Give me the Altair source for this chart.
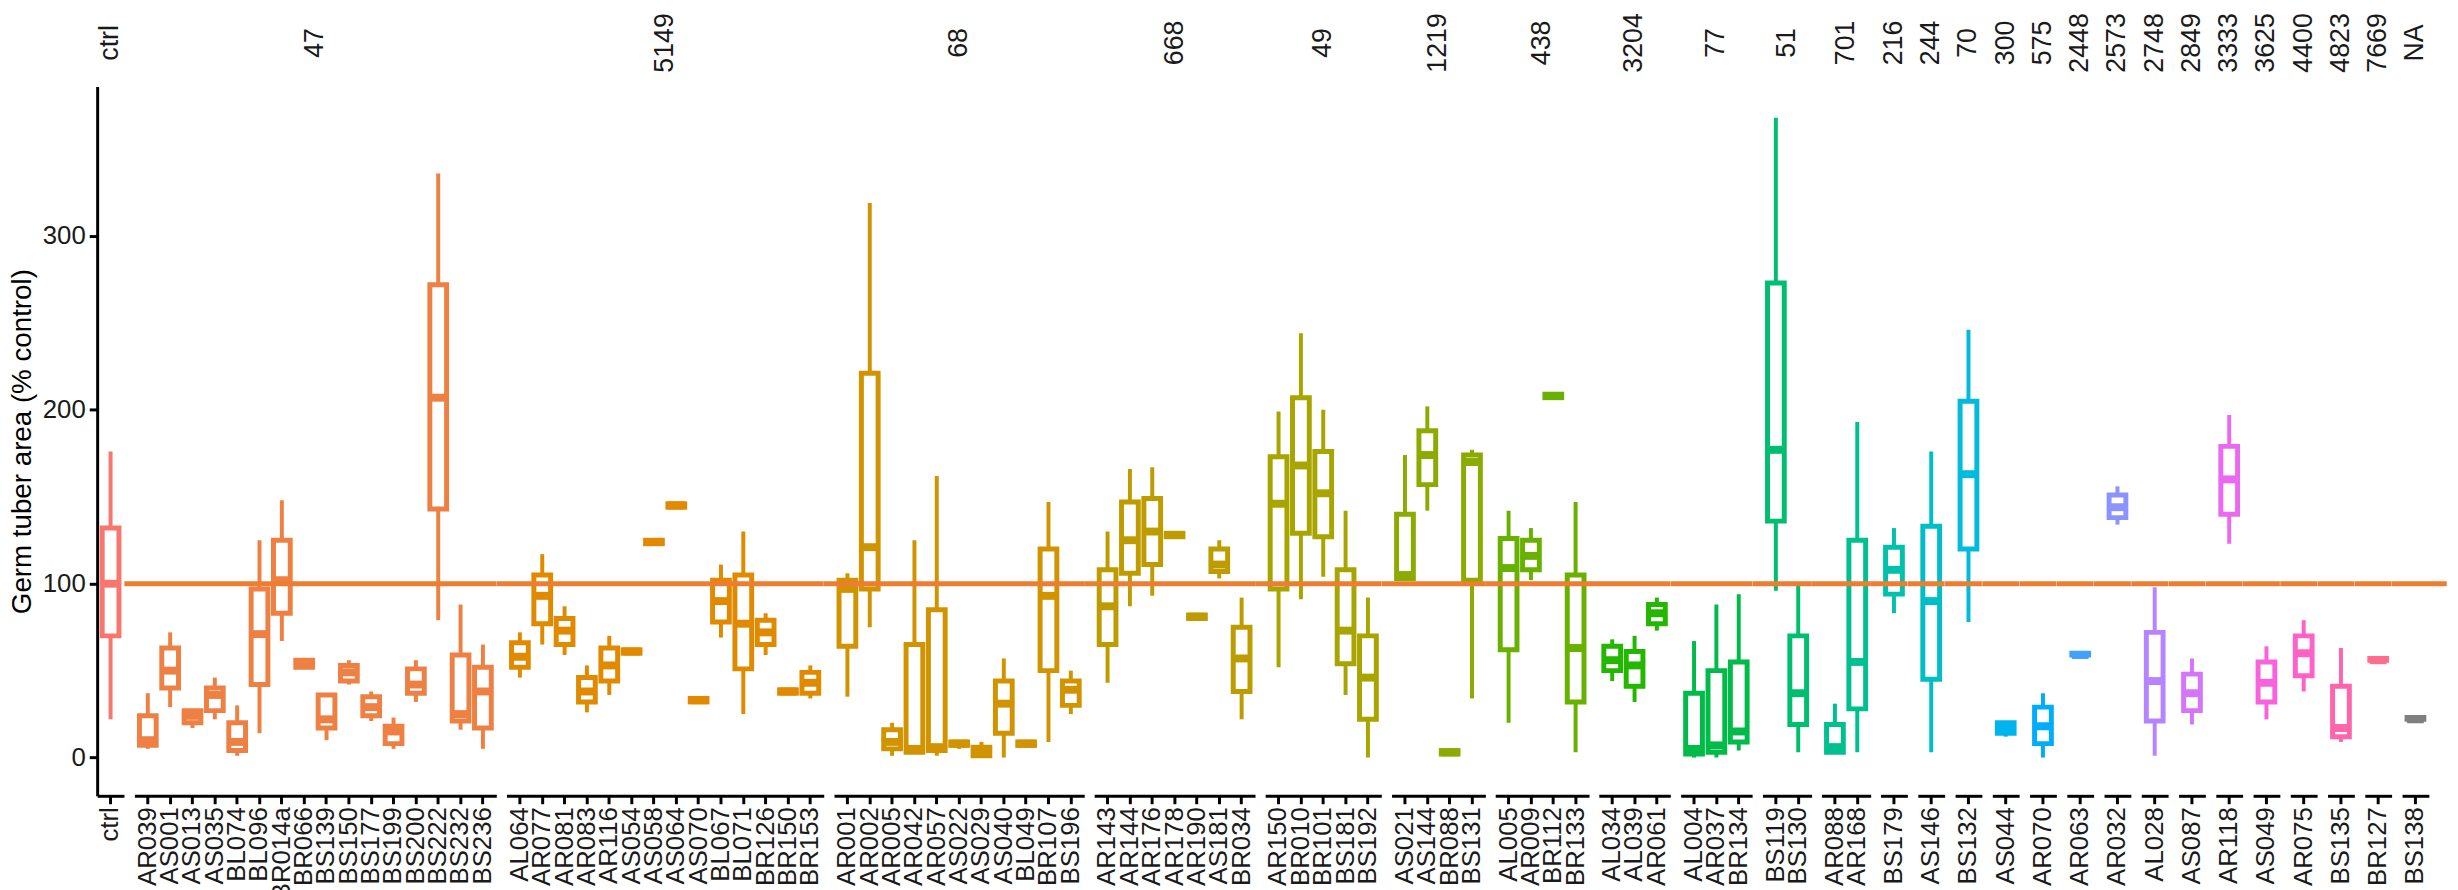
import math
import altair as alt
import pandas as pd

# ---------------- data ----------------
groups = ["ctrl", "47", "5149", "68", "668", "49", "1219", "438", "3204", "77", "51", "701",
          "216", "244", "70", "300", "575", "2448", "2573", "2748", "2849", "3333", "3625",
          "4400", "4823", "7669", "NA"]

cats = ["ctrl",
        "AR039", "AS001", "AS013", "AS035", "BL074", "BL096", "BR014a", "BR066", "BS139", "BS150",
        "BS177", "BS199", "BS200", "BS222", "BS232", "BS236",
        "AL064", "AR077", "AR081", "AR083", "AR116", "AS054", "AS058", "AS064", "AS070", "BL067",
        "BL071", "BR126", "BR150", "BR153",
        "AR001", "AR002", "AR005", "AR042", "AR057", "AS022", "AS029", "AS040", "BL049", "BR107", "BS196",
        "AR143", "AR144", "AR176", "AR178", "AR190", "AS181", "BR034",
        "AR150", "BR010", "BR101", "BS181", "BS192",
        "AS021", "AS144", "BR088", "BS131",
        "AL005", "AR009", "BR112", "BR133",
        "AL034", "AL039", "AR061",
        "AL004", "AR037", "BR134",
        "BS119", "BS130",
        "AR088", "AR168",
        "BS179", "AS146", "BS132", "AS044", "AR070", "AR063", "AR032", "AL028", "AS087", "AR118",
        "AS049", "AR075", "BS135", "BR127", "BS138"]

grp = ["ctrl",
       "47", "47", "47", "47", "47", "47", "47", "47", "47", "47", "47", "47", "47", "47", "47", "47",
       "5149", "5149", "5149", "5149", "5149", "5149", "5149", "5149", "5149", "5149", "5149", "5149", "5149", "5149",
       "68", "68", "68", "68", "68", "68", "68", "68", "68", "68", "68",
       "668", "668", "668", "668", "668", "668", "668",
       "49", "49", "49", "49", "49",
       "1219", "1219", "1219", "1219",
       "438", "438", "438", "438",
       "3204", "3204", "3204",
       "77", "77", "77",
       "51", "51",
       "701", "701",
       "216", "244", "70", "300", "575", "2448", "2573", "2748", "2849", "3333",
       "3625", "4400", "4823", "7669", "NA"]

lo = [22,
      5, 29, 17, 22, 1, 14, 67, 51, 10, 42, 21, 5, 32, 79, 16, 5,
      46, 65, 59, 26, 36, 60, 123, 144, 32, 69, 25, 59, 37, 34,
      35, 75, 1, 2, 1, 5, 0, 0, 7, 9, 25,
      43, 87, 93, 127, 80, 103, 22,
      52, 91, 104, 36, 0,
      103, 142, 2, 34,
      20, 102, 207, 3,
      44, 32, 73,
      0, 0, 4,
      96, 3,
      2, 3,
      83, 3, 78, 12, 0, 58, 134, 1, 19, 123, 22, 38, 9, 55, 21]
q1 = [70,
      7, 40, 20, 27, 4, 42, 83, 52, 17, 44, 24, 8, 37, 143, 21, 17,
      52, 77, 65, 32, 44, 60, 123, 144, 32, 78, 51, 65, 37, 37,
      64, 97, 5, 3, 4, 7, 1, 14, 7, 50, 30,
      65, 106, 111, 127, 80, 107, 38,
      97, 129, 127, 54, 22,
      103, 157, 2, 102,
      62, 108, 207, 32,
      50, 41, 77,
      2, 3, 9,
      136, 19,
      3, 28,
      94, 45, 120, 14, 8, 59, 138, 21, 27, 140, 32, 47, 12, 56, 22]
med = [100,
       10, 50, 24, 36, 9, 71, 102, 54, 22, 49, 29, 15, 42, 207, 25, 38,
       58, 93, 73, 38, 53, 61, 124, 145, 33, 90, 77, 72, 38, 43,
       97, 121, 9, 5, 6, 8, 3, 31, 8, 93, 39,
       87, 125, 130, 128, 81, 111, 57,
       146, 168, 152, 73, 46,
       105, 174, 3, 170,
       109, 116, 208, 63,
       56, 53, 83,
       5, 7, 15,
       177, 37,
       6, 55,
       108, 90, 163, 17, 18, 59, 144, 44, 37, 160, 43, 60, 17, 56, 22]
q3 = [132,
      24, 63, 27, 40, 20, 97, 125, 56, 36, 53, 35, 18, 51, 272, 59, 52,
      66, 105, 80, 46, 63, 62, 125, 146, 34, 102, 105, 79, 39, 49,
      102, 221, 16, 65, 85, 9, 6, 44, 9, 120, 44,
      108, 147, 149, 129, 82, 120, 75,
      173, 207, 176, 108, 70,
      140, 188, 4, 174,
      126, 125, 209, 105,
      64, 61, 88,
      37, 50, 55,
      273, 70,
      19, 125,
      121, 133, 205, 20, 29, 60, 151, 72, 48, 179, 55, 70, 41, 57, 23]
hi = [176,
      37, 72, 28, 46, 30, 125, 148, 57, 36, 56, 38, 23, 56, 336, 88, 65,
      72, 117, 87, 53, 70, 62, 125, 146, 34, 111, 130, 83, 39, 53,
      106, 319, 20, 125, 162, 10, 9, 57, 9, 147, 50,
      130, 166, 167, 129, 82, 125, 92,
      199, 244, 200, 142, 92,
      174, 202, 4, 177,
      142, 132, 209, 147,
      68, 70, 92,
      67, 88, 94,
      368, 101,
      31, 193,
      132, 176, 246, 21, 37, 60, 156, 98, 57, 197, 64, 79, 63, 57, 23]

y_ticks = [0, 100, 200, 300]
ref_value = [100]


# ---------------- ggplot-like hue palette ----------------
def hcl_hex(h, c=100.0, l=65.0):
    WY, Wu, Wv = 100.0, 0.1978398, 0.4683363
    hr = math.radians(h)
    U, V = c * math.cos(hr), c * math.sin(hr)
    Y = WY * (((l + 16) / 116) ** 3 if l > 7.999592 else l / 903.3)
    u_ = U / (13 * l) + Wu
    v_ = V / (13 * l) + Wv
    X = 9.0 * Y * u_ / (4 * v_)
    Z = -X / 3 - 5 * Y + 3 * Y / v_

    def gt(t):
        return 1.055 * t ** (1 / 2.4) - 0.055 if t > 0.00304 else 12.92 * t

    r = gt((3.240479 * X - 1.537150 * Y - 0.498535 * Z) / WY)
    g = gt((-0.969256 * X + 1.875992 * Y + 0.041556 * Z) / WY)
    b = gt((0.055648 * X - 0.204043 * Y + 1.057311 * Z) / WY)
    vals = [max(0, min(255, round(255 * max(0.0, min(1.0, x))))) for x in (r, g, b)]
    return "#%02X%02X%02X" % tuple(vals)


n_col = len(groups) - 1
palette = [hcl_hex(15 + i * 360.0 / n_col) for i in range(n_col)] + ["#7F7F7F"]

# ---------------- layout ----------------
FONT = "Liberation Sans"
u = 22.55       # px per category step
GAP = 9.6       # px between panels
H = 716         # plot height
yscale = alt.Scale(domain=[-22, 386], nice=False, zero=False)
ytitle = "Germ tuber area (% control)"

panels = []
last = len(groups) - 1
for gi, g in enumerate(groups):
    idx = [i for i, gg in enumerate(grp) if gg == g]
    df = pd.DataFrame({
        "cat": [cats[i] for i in idx],
        "lo": [lo[i] for i in idx],
        "q1": [q1[i] for i in idx],
        "med": [med[i] for i in idx],
        "q3": [q3[i] for i in idx],
        "hi": [hi[i] for i in idx],
    })
    order = list(df["cat"])
    col = palette[gi]
    w = (len(idx) + 0.2) * u

    xenc = alt.X("cat:N", sort=order, title=None,
                 scale=alt.Scale(type="band", paddingInner=0, paddingOuter=0.1),
                 axis=alt.Axis(labelAngle=270, labelOverlap=False))
    if gi == 0:
        yaxis = alt.Axis(values=y_ticks, grid=False, labelFontSize=26, labelPadding=4,
                         titleFontSize=28, titlePadding=6, titleFontWeight="normal",
                         tickSize=8, tickWidth=3, domainWidth=3)
    else:
        yaxis = None

    base = alt.Chart(df)
    whisk = base.mark_rule(color=col, strokeWidth=4).encode(
        x=xenc, y=alt.Y("lo:Q", scale=yscale, axis=yaxis, title=ytitle), y2="hi:Q")
    box = base.mark_bar(fill="white", stroke=col, strokeWidth=5,
                        width=alt.RelativeBandSize(0.75)).encode(
        x=xenc, y=alt.Y("q1:Q", scale=yscale, axis=yaxis, title=ytitle), y2="q3:Q")
    medm = base.mark_tick(color=col, thickness=8, size=0.75 * u, opacity=1).encode(
        x=xenc, y=alt.Y("med:Q", scale=yscale, axis=yaxis, title=ytitle))
    label = alt.Chart(pd.DataFrame({"lab": [g]})).mark_text(
        angle=270, align="center", baseline="middle", fontSize=27, font=FONT,
        color="#1A1A1A").encode(text="lab:N", x=alt.value(w / 2), y=alt.value(-44))

    layers = [whisk, box, medm]
    if gi > 0:
        x0 = -GAP - 0.5
        x1 = w + (18 if gi == last else 0)
        ref = alt.Chart(pd.DataFrame({"ref": ref_value})).mark_rule(
            color="#ED7D31", strokeWidth=5).encode(
            y=alt.Y("ref:Q", scale=yscale, axis=yaxis, title=ytitle),
            x=alt.value(x0), x2=alt.value(x1))
        layers.append(ref)
    layers.append(label)

    panel = alt.layer(*layers).properties(width=w, height=H)
    panels.append(panel)

chart = alt.hconcat(*panels, spacing=GAP, bounds="flush").properties(
    padding={"left": 0, "top": 0, "right": 0, "bottom": 0},
    background="white",
).configure_view(stroke=None).configure_axis(
    labelFont=FONT, titleFont=FONT, labelColor="#1A1A1A", titleColor="#000000",
    domainColor="#000000", tickColor="#000000", domainWidth=3, tickWidth=3, tickSize=8,
).configure_axisX(
    labelFontSize=26, labelPadding=3,
)

chart.save("out.html", embed_options={"renderer": "svg", "actions": False})
